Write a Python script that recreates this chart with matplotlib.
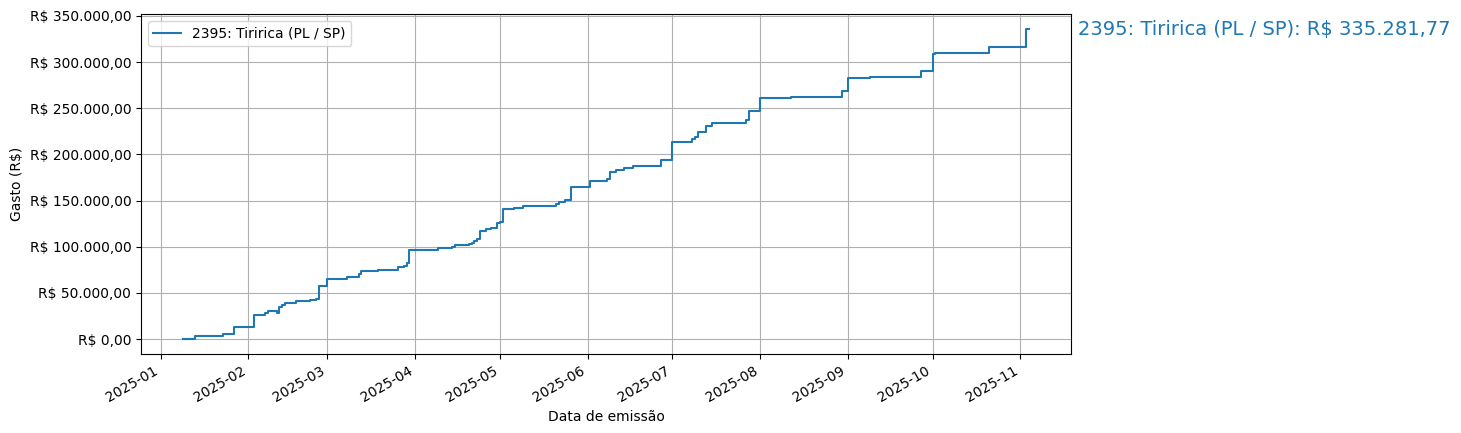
import matplotlib
matplotlib.use("Agg")
import matplotlib.pyplot as plt
import matplotlib.transforms as mtransforms
from matplotlib.ticker import FuncFormatter
import pandas as pd

# dados (gasto acumulado)
datas = ["2025-01-09", "2025-01-13", "2025-01-23", "2025-01-27", "2025-02-03",
         "2025-02-07", "2025-02-08", "2025-02-11", "2025-02-12", "2025-02-13",
         "2025-02-14", "2025-02-16", "2025-02-18", "2025-02-23", "2025-02-25",
         "2025-02-26", "2025-03-01", "2025-03-08", "2025-03-12", "2025-03-13",
         "2025-03-19", "2025-03-26", "2025-03-28", "2025-03-29", "2025-03-30",
         "2025-04-01", "2025-04-09", "2025-04-14", "2025-04-15", "2025-04-20",
         "2025-04-21", "2025-04-22", "2025-04-23", "2025-04-24", "2025-04-26",
         "2025-04-28", "2025-04-30", "2025-05-01", "2025-05-02", "2025-05-06",
         "2025-05-09", "2025-05-21", "2025-05-22", "2025-05-24", "2025-05-26",
         "2025-06-02", "2025-06-08", "2025-06-09", "2025-06-11", "2025-06-14",
         "2025-06-17", "2025-06-27", "2025-07-01", "2025-07-08", "2025-07-09",
         "2025-07-10", "2025-07-13", "2025-07-15", "2025-07-27", "2025-07-28",
         "2025-08-01", "2025-08-12", "2025-08-30", "2025-09-01", "2025-09-09",
         "2025-09-27", "2025-10-01", "2025-10-02", "2025-10-21", "2025-11-03",
         "2025-11-04"]
gasto = [500, 3600, 5400, 12700, 26300,
         27800, 30000, 28200, 35000, 37200,
         38600, 39300, 40800, 41900, 43000,
         57400, 65300, 67200, 70400, 73300,
         75100, 77700, 79100, 82000, 96100,
         96800, 98900, 100000, 101500, 102600,
         104400, 106500, 108700, 117000, 118800,
         120000, 125700, 127100, 141200, 142300,
         144100, 146300, 148400, 150600, 165000,
         171500, 173100, 181300, 183100, 185700,
         187800, 194000, 213500, 216400, 219200,
         224600, 231100, 234000, 237300, 247400,
         261500, 262600, 269100, 283200, 284300,
         290800, 309200, 310300, 316700, 335281.77,
         335281.77]
nome = "2395: Tiririca (PL / SP)"

def brl(v, pos=None):
    s = f"{v:,.2f}".replace(",", "X").replace(".", ",").replace("X", ".")
    return "R$ " + s

x = pd.to_datetime(datas)

fig, ax = plt.subplots(figsize=(14.61, 4.33), dpi=100)
ax.step(x, gasto, where="post", color="C0", label=nome)
ax.yaxis.set_major_formatter(FuncFormatter(brl))
ax.set_xlabel("Data de emissão")
ax.set_ylabel("Gasto (R$)")
ax.grid(True)
ax.legend(loc="upper left")

trans = mtransforms.blended_transform_factory(ax.transAxes, ax.transData)
ax.text(1.008, gasto[-1], nome + ": " + brl(gasto[-1]), transform=trans,
        color="C0", fontsize=14, va="center", ha="left")

fig.autofmt_xdate()
plt.subplots_adjust(left=0.0965, right=0.733, top=0.9677, bottom=0.1824)
plt.savefig("out.png")
